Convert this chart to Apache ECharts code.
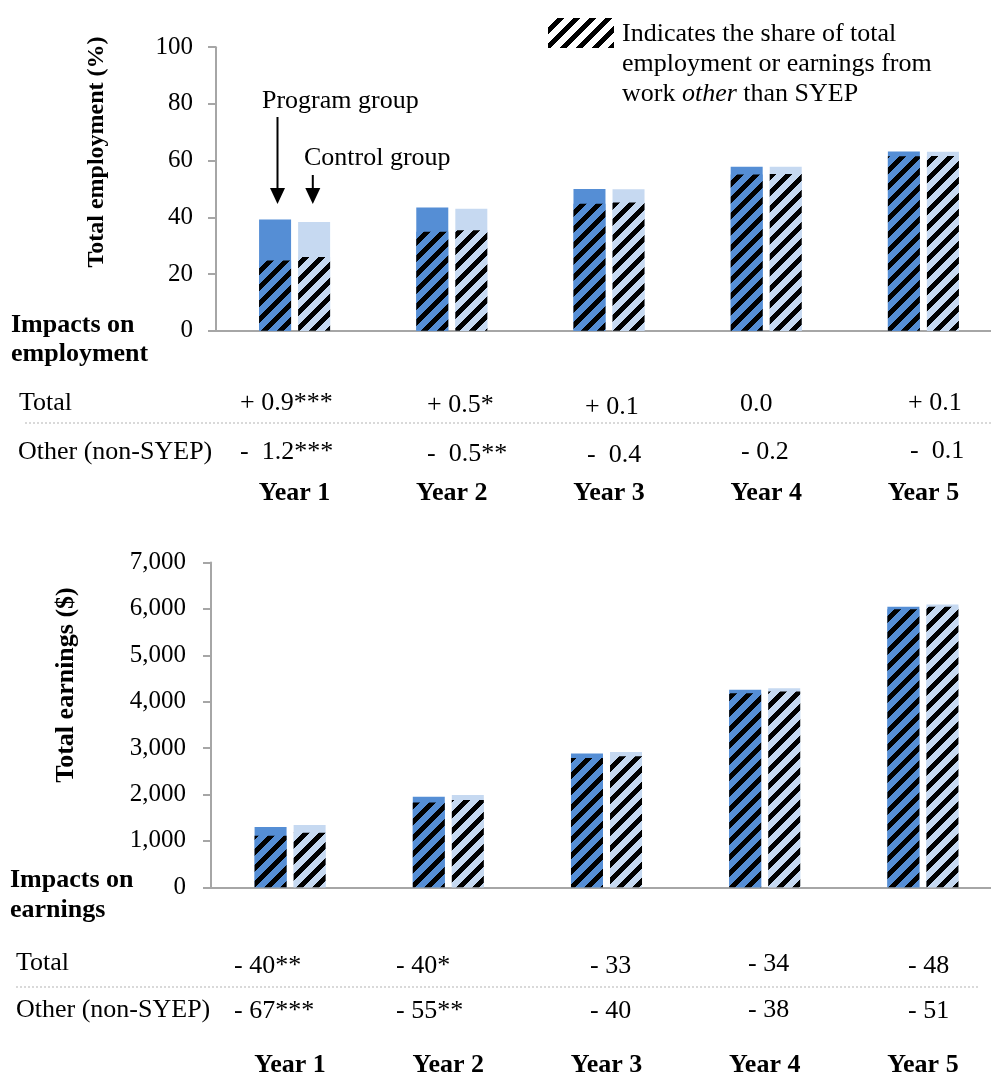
<!DOCTYPE html>
<html>
<head>
<meta charset="utf-8">
<script src="https://cdn.jsdelivr.net/npm/echarts@6/dist/echarts.min.js"></script>
<style>
  html, body { margin: 0; padding: 0; background: #fff; overflow: hidden; }
  /* the plot area runs slightly past the right edge of the window */
  #chart { width: 1010px; height: 1080px; }
</style>
</head>
<body>
<div id="chart"></div>
<script>
// ---- Data -------------------------------------------------------------
const years = ['Year 1', 'Year 2', 'Year 3', 'Year 4', 'Year 5'];

// Employment (%): total and the part from work other than SYEP
const empProgramTotal = [39.2, 43.5, 50.0, 57.8, 63.2];
const empControlTotal = [38.3, 43.0, 49.9, 57.8, 63.1];
const empProgramOther = [24.8, 34.9, 44.8, 55.1, 61.5];
const empControlOther = [26.0, 35.4, 45.2, 55.3, 61.6];

// Earnings ($): total and the part from work other than SYEP
const earnProgramTotal = [1300, 1950, 2885, 4255, 6045];
const earnControlTotal = [1340, 1990, 2918, 4289, 6093];
const earnProgramOther = [1110, 1825, 2785, 4180, 5995];
const earnControlOther = [1177, 1880, 2825, 4218, 6046];

// Axis ticks
const empTicks = [0, 20, 40, 60, 80, 100];
const earnTicks = [0, 1000, 2000, 3000, 4000, 5000, 6000, 7000];

// Estimated impacts shown under each panel
const empImpactTotal = ['+ 0.9***', '+ 0.5*', '+ 0.1', '0.0', '+ 0.1'];
const empImpactOther = ['-  1.2***', '-  0.5**', '-  0.4', '- 0.2', '-  0.1'];
const earnImpactTotal = ['- 40**', '- 40*', '- 33', '- 34', '- 48'];
const earnImpactOther = ['- 67***', '- 55**', '- 40', '- 38', '- 51'];

// ---- Layout -----------------------------------------------------------
const SERIF = '"Liberation Serif", "Times New Roman", serif';
const BLUE = '#558ED5';
const LIGHT = '#C6D9F1';
const AXIS_GRAY = '#a6a6a6';

// left edge and vertical centre of each impact text
const empTotalPos  = [[240, 403], [427, 405], [585, 407], [740, 404], [908, 403]];
const empOtherPos  = [[240, 452], [427, 454], [587, 455], [741, 452], [910, 451]];
const earnTotalPos = [[234, 966], [396, 966], [590, 966], [748, 964], [908, 966]];
const earnOtherPos = [[234, 1011], [396, 1011], [590, 1011], [748, 1010], [908, 1011]];

// Diagonal hatch tile ("/" stripes) on an optional background colour
function hatchTile(bg) {
  const c = document.createElement('canvas');
  c.width = 16; c.height = 16;
  const g = c.getContext('2d');
  if (bg) { g.fillStyle = bg; g.fillRect(0, 0, 16, 16); }
  g.fillStyle = '#000';
  for (let y = 0; y < 16; y++) {
    const start = (15 - y);
    for (let k = 0; k < 7; k++) {
      g.fillRect((start + k) % 16, y, 1, 1);
    }
  }
  return c;
}
const hatchBlue = { image: hatchTile(BLUE), repeat: 'repeat' };
const hatchLight = { image: hatchTile(LIGHT), repeat: 'repeat' };
const hatchWhite = { image: hatchTile('#fff'), repeat: 'repeat' };

function txt(text, x, y, opts) {
  return Object.assign({
    type: 'text', x: x, y: y, silent: true,
    style: Object.assign({
      text: text, fontFamily: SERIF, fontSize: 26, fill: '#000',
      align: 'left', verticalAlign: 'middle'
    }, (opts && opts.style) || {})
  }, (opts && opts.el) || {});
}

function impactTexts(labels, pos) {
  return labels.map((t, i) => txt(t, pos[i][0], pos[i][1]));
}

function valueAxis(gridIndex, ticks, fmt, margin) {
  return {
    type: 'value', gridIndex: gridIndex,
    min: ticks[0], max: ticks[ticks.length - 1], interval: ticks[1] - ticks[0],
    axisLine: { show: true, lineStyle: { color: AXIS_GRAY, width: 2 } },
    axisTick: { show: true, inside: false, length: 8, lineStyle: { color: AXIS_GRAY, width: 2 } },
    splitLine: { show: false },
    axisLabel: {
      fontFamily: SERIF, fontSize: 25, color: '#000', margin: margin,
      formatter: fmt
    }
  };
}

function categoryAxis(gridIndex, shown, margin) {
  return {
    type: 'category', gridIndex: gridIndex, data: years, show: shown,
    axisLine: { show: true, onZero: false, lineStyle: { color: AXIS_GRAY, width: 2 } },
    axisTick: { show: false },
    axisLabel: {
      fontFamily: SERIF, fontSize: 26, fontWeight: 'bold', color: '#000',
      margin: margin, lineHeight: 26
    }
  };
}

function bar(xi, yi, data, color, z) {
  return {
    type: 'bar', xAxisIndex: xi, yAxisIndex: yi, data: data,
    barWidth: 32, barGap: '22%', z: z, silent: true,
    itemStyle: { color: color }
  };
}

const option = {
  animation: false,
  backgroundColor: '#fff',
  grid: [
    { left: 216, top: 47.2, width: 786, height: 283.5 },
    { left: 211, top: 562.5, width: 791, height: 324.8 }
  ],
  xAxis: [
    categoryAxis(0, true, 150),
    categoryAxis(0, false, 150),
    categoryAxis(1, true, 165),
    categoryAxis(1, false, 165)
  ],
  yAxis: [
    valueAxis(0, empTicks, v => String(v), 23),
    valueAxis(1, earnTicks, v => v.toLocaleString('en-US'), 25)
  ],
  series: [
    bar(0, 0, empProgramTotal, BLUE, 2),
    bar(0, 0, empControlTotal, LIGHT, 2),
    bar(1, 0, empProgramOther, hatchBlue, 3),
    bar(1, 0, empControlOther, hatchLight, 3),
    bar(2, 1, earnProgramTotal, BLUE, 2),
    bar(2, 1, earnControlTotal, LIGHT, 2),
    bar(3, 1, earnProgramOther, hatchBlue, 3),
    bar(3, 1, earnControlOther, hatchLight, 3)
  ],
  graphic: [
    // axis titles
    txt('Total employment (%)', 97, 152, {
      style: { fontSize: 24, fontWeight: 'bold', align: 'center' },
      el: { rotation: Math.PI / 2 }
    }),
    txt('Total earnings ($)', 66, 685, {
      style: { fontSize: 26, fontWeight: 'bold', align: 'center' },
      el: { rotation: Math.PI / 2 }
    }),

    // hatch key
    { type: 'rect', shape: { x: 548, y: 18, width: 66, height: 30 }, silent: true,
      style: { fill: hatchWhite } },
    txt('Indicates the share of total', 622, 34.5),
    txt('employment or earnings from', 622, 64.5),
    { type: 'text', x: 622, y: 94.5, silent: true,
      style: {
        text: 'work {it|other} than SYEP', fontFamily: SERIF, fontSize: 26, fill: '#000',
        align: 'left', verticalAlign: 'middle',
        rich: { it: { fontFamily: SERIF, fontSize: 26, fontStyle: 'italic', fill: '#000' } }
      } },

    // group call-outs
    txt('Program group', 262, 101),
    txt('Control group', 304, 158),
    { type: 'line', silent: true, shape: { x1: 277.5, y1: 117, x2: 277.5, y2: 192 },
      style: { stroke: '#000', lineWidth: 2 } },
    { type: 'polygon', silent: true, shape: { points: [[270, 188], [285, 188], [277.5, 204]] },
      style: { fill: '#000' } },
    { type: 'line', silent: true, shape: { x1: 312.8, y1: 175, x2: 312.8, y2: 192 },
      style: { stroke: '#000', lineWidth: 2 } },
    { type: 'polygon', silent: true, shape: { points: [[305.3, 188], [320.3, 188], [312.8, 204]] },
      style: { fill: '#000' } },

    // employment impacts table
    txt('Impacts on', 11, 325, { style: { fontWeight: 'bold' } }),
    txt('employment', 11, 354, { style: { fontWeight: 'bold' } }),
    txt('Total', 19, 403),
    txt('Other (non-SYEP)', 18, 452),
    { type: 'line', silent: true, shape: { x1: 25, y1: 423, x2: 991, y2: 423 },
      style: { stroke: '#b4b4b4', lineWidth: 1, lineDash: [2, 2] } },
    ...impactTexts(empImpactTotal, empTotalPos),
    ...impactTexts(empImpactOther, empOtherPos),

    // earnings impacts table
    txt('Impacts on', 10, 880, { style: { fontWeight: 'bold' } }),
    txt('earnings', 10, 910, { style: { fontWeight: 'bold' } }),
    txt('Total', 16, 963),
    txt('Other (non-SYEP)', 16, 1010),
    { type: 'line', silent: true, shape: { x1: 16, y1: 987, x2: 980, y2: 987 },
      style: { stroke: '#b4b4b4', lineWidth: 1, lineDash: [2, 2] } },
    ...impactTexts(earnImpactTotal, earnTotalPos),
    ...impactTexts(earnImpactOther, earnOtherPos)
  ]
};

const chart = echarts.init(document.getElementById('chart'), null, { renderer: 'canvas' });
chart.setOption(option);
</script>
</body>
</html>
